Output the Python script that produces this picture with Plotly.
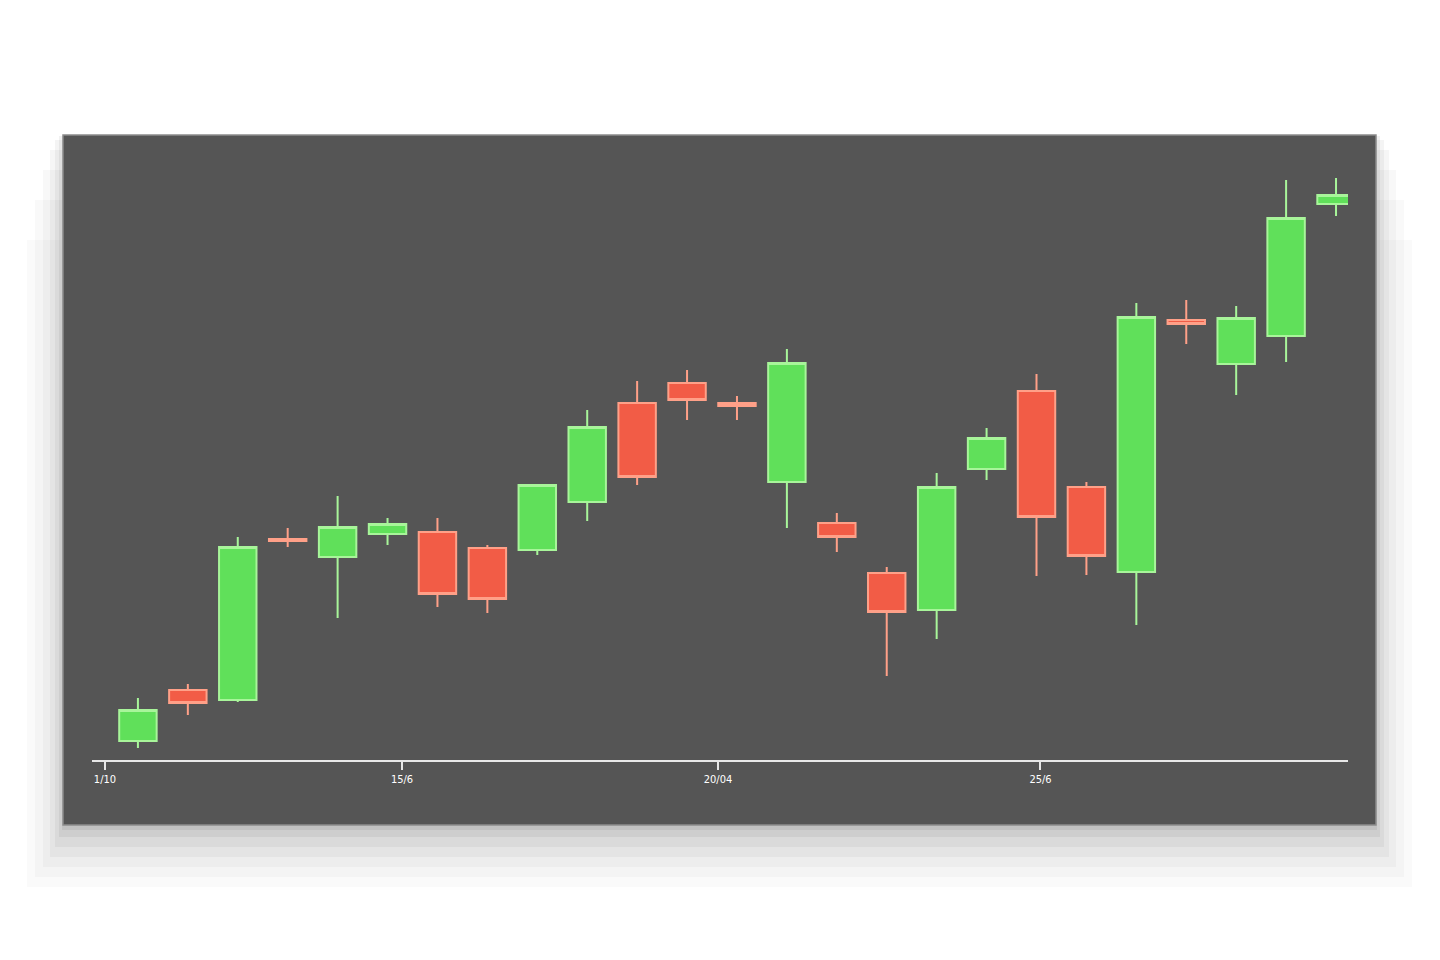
import plotly.graph_objects as go

# ---- data ----
idx = list(range(25))
open_ = [103.8, 114.0, 112.0, 144.2, 140.6, 145.2, 145.6, 142.4, 142.0, 151.6,
         171.4, 175.4, 171.4, 155.6, 147.4, 137.4, 130.0, 158.2, 173.8, 154.6,
         137.6, 188.0, 179.2, 184.8, 211.2]
high = [112.4, 115.2, 144.6, 146.4, 152.8, 148.4, 148.4, 143.0, 155.2, 170.0,
        175.8, 178.0, 172.8, 182.2, 149.4, 138.6, 157.4, 166.4, 177.2, 155.6,
        191.4, 192.0, 190.8, 216.0, 216.4]
low = [102.4, 109.0, 111.6, 142.6, 128.4, 143.0, 130.6, 129.4, 141.0, 147.8,
       155.0, 168.0, 168.0, 146.4, 141.6, 116.8, 124.2, 156.0, 136.8, 137.0,
       127.0, 183.2, 173.0, 179.6, 208.8]
close = [110.0, 111.4, 142.6, 143.8, 146.6, 147.2, 133.2, 132.2, 155.0, 166.6,
         156.6, 172.0, 170.8, 179.4, 144.6, 129.6, 154.6, 164.4, 148.6, 140.8,
         188.6, 187.2, 188.4, 208.4, 213.0]

tick_positions = [-0.66, 5.29, 11.62, 18.08]
tick_labels = ["1/10", "15/6", "20/04", "25/6"]

# ---- figure ----
fig = go.Figure(go.Candlestick(
    x=idx, open=open_, high=high, low=low, close=close,
    increasing=dict(fillcolor="#60e05a", line=dict(color="#a8f59a", width=2)),
    decreasing=dict(fillcolor="#f25c46", line=dict(color="#ffa088", width=2)),
    whiskerwidth=0,
    showlegend=False,
))

OFF = 8  # page body margin
W, H = 1440, 960
L, T = 92 - OFF, 140 - OFF
R = W - (1348 - OFF)
B = H - (760 - OFF)
pw, ph = W - L - R, H - T - B

def px_to_paper(x, y):
    x -= OFF
    y -= OFF
    return (x - L) / pw, (H - B - y) / ph

shapes = []
# soft shadow, mostly below the panel (staggered tops so edges fade)
for grow, down, top, op in [(36, 62, 240, 0.018), (28, 52, 200, 0.022), (20, 42, 170, 0.028),
                            (13, 32, 150, 0.035), (8, 22, 140, 0.045), (4, 12, 136, 0.055),
                            (1, 5, 136, 0.06)]:
    x0, y1 = px_to_paper(63 - grow, top)
    x1, y0 = px_to_paper(1376 + grow, 825 + down)
    shapes.append(dict(type="rect", xref="paper", yref="paper", x0=x0, x1=x1, y0=y0, y1=y1,
                       fillcolor=f"rgba(0,0,0,{op})", line=dict(width=0), layer="below"))
# dark panel
x0, y1 = px_to_paper(63, 135)
x1, y0 = px_to_paper(1376, 825)
shapes.append(dict(type="rect", xref="paper", yref="paper", x0=x0, x1=x1, y0=y0, y1=y1,
                   fillcolor="#555555", line=dict(color="#8c8c8c", width=1.5), layer="below"))

fig.update_layout(
    width=W, height=H,
    margin=dict(l=L, r=R, t=T, b=B),
    paper_bgcolor="white",
    plot_bgcolor="rgba(0,0,0,0)",
    shapes=shapes,
    boxgap=0.25,
    boxgroupgap=0,
    xaxis=dict(
        range=[-0.92, 24.24],
        rangeslider=dict(visible=False),
        showgrid=False, zeroline=False,
        showline=True, linecolor="#e8e8e8", linewidth=2,
        ticks="outside", tickcolor="#e8e8e8", ticklen=8, tickwidth=2,
        tickvals=tick_positions, ticktext=tick_labels,
        tickfont=dict(color="white", size=11, family="Liberation Sans Narrow, DejaVu Sans Condensed, sans-serif"),
    ),
    yaxis=dict(range=[100, 224], visible=False),
)

fig.write_html("out.html")
